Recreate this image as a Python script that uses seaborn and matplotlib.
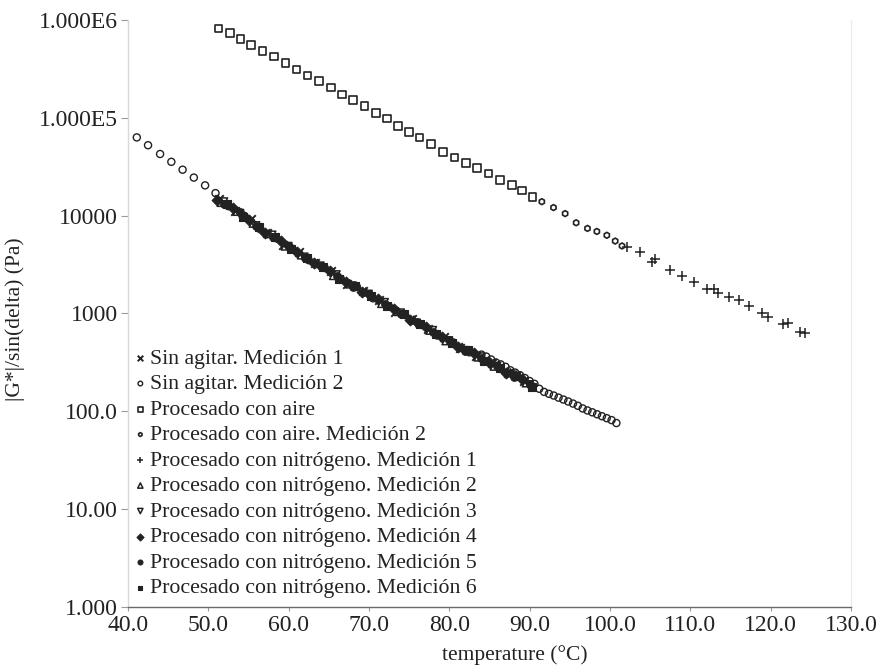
import matplotlib
matplotlib.use("Agg")
import matplotlib.pyplot as plt
import seaborn as sns

# ---- data: temperature (°C) and |G*|/sin(delta) (Pa) per measurement ----
sa1_t = [51.3, 53.3, 55.3, 57.3, 59.3, 61.3, 63.3, 65.3, 67.3, 69.3,
         71.3, 73.3, 75.3, 77.3, 79.3, 81.3, 83.3, 85.3, 87.3, 89.3]
sa1_g = [14900, 11100, 9160, 6670, 5070, 4220, 3270, 2720, 2020, 1680,
         1370, 1040, 885, 700, 571, 444, 370, 314, 244, 203]

sa2_t = [41.1, 42.5, 44.0, 45.4, 46.8, 48.2, 49.6, 50.9,
         52.5, 54.5, 56.5, 58.5, 60.5, 62.5, 64.5, 66.5, 68.5, 70.5,
         72.5, 74.5, 76.5, 78.5, 80.5, 82.5,
         84.0, 84.6, 85.2, 85.8, 86.4, 87.0, 87.6, 88.2, 88.8, 89.4,
         90.0, 90.6, 91.2, 91.8, 92.4, 93.0, 93.6, 94.2, 94.8, 95.4,
         96.0, 96.6, 97.2, 97.8, 98.4, 99.0, 99.6, 100.2, 100.8]
sa2_g = [63100, 52500, 42700, 35500, 29500, 24500, 20400, 17000,
         12500, 9950, 7240, 5860, 4520, 3510, 2920, 2260, 1870, 1430,
         1180, 966, 764, 596, 505, 401,
         380, 363, 339, 316, 302, 285, 263, 249, 234, 219,
         204, 191, 170, 158, 151, 145, 138, 132, 126, 120,
         114, 107, 102, 97.7, 93.3, 89.1, 85.1, 81.3, 75.9]

aire_t = [51.25, 52.70, 54.03, 55.32, 56.77, 58.18, 59.59, 60.96, 62.37, 63.79,
          65.24, 66.61, 67.98, 69.43, 70.84, 72.21, 73.62, 74.95, 76.28, 77.69,
          79.19, 80.64, 82.05, 83.42, 84.87, 86.33, 87.78, 89.03, 90.35]
aire_g = [822000, 741000, 640000, 555000, 485000, 422000, 361000, 313000, 270000, 238000,
          205000, 174000, 153000, 132000, 112000, 98000, 82400, 71600, 62700, 54000,
          45000, 39400, 34500, 30900, 27100, 23300, 20600, 18000, 15600]

aire2_t = [91.52, 92.97, 94.42, 95.79, 97.20, 98.37, 99.61, 100.65, 101.5]
aire2_g = [13900, 12100, 10500, 8460, 7410, 6900, 6300, 5500, 4900]

n1_t = [102.1, 103.76, 105.21, 105.63, 107.5, 108.95, 110.4, 112.07, 112.9, 113.5,
        114.76, 116.0, 117.25, 118.9, 119.7, 121.6, 122.2, 123.7, 124.3]
n1_g = [4740, 4280, 3380, 3570, 2780, 2410, 2110, 1800, 1760, 1620,
        1480, 1370, 1190, 1000, 925, 780, 800, 641, 627]

n2_t = [51.6, 53.6, 55.6, 57.6, 59.6, 61.6, 63.6, 65.6, 67.6, 69.6,
        71.6, 73.6, 75.6, 77.6, 79.6, 81.6, 83.6, 85.6, 87.6, 89.6]
n2_g = [13700, 11100, 8390, 6560, 4900, 3980, 3240, 2450, 2010, 1660,
        1270, 1050, 857, 676, 528, 450, 360, 290, 247, 196]

n3_t = [51.9, 53.9, 55.9, 57.9, 59.9, 61.9, 63.9, 65.9, 67.9, 69.9,
        71.9, 73.9, 75.9, 77.9, 79.9, 81.9, 83.9, 85.9, 87.9, 89.9]
n3_g = [13800, 10500, 7870, 6310, 4840, 3760, 3050, 2480, 1910, 1570,
        1290, 1010, 794, 668, 525, 417, 359, 288, 234, 186]

n4_t = [51.1, 53.1, 55.1, 57.1, 59.1, 61.1, 63.1, 65.1, 67.1, 69.1,
        71.1, 73.1, 75.1, 77.1, 79.1, 81.1, 83.1, 85.1, 87.1, 89.1]
n4_g = [14300, 11900, 8990, 6680, 5560, 4220, 3270, 2720, 2120, 1640,
        1400, 1110, 863, 733, 570, 453, 394, 313, 249, 212]

n5_t = [52.0, 54.0, 56.0, 58.0, 60.0, 62.0, 64.0, 66.0, 68.0, 70.0,
        72.0, 74.0, 76.0, 78.0, 80.0, 82.0, 84.0, 86.0, 88.0, 90.0]
n5_g = [13300, 10800, 7760, 6100, 4900, 3720, 3090, 2400, 1880, 1580,
        1240, 977, 822, 646, 531, 412, 347, 292, 226, 188]

n6_t = [52.3, 54.3, 56.3, 58.3, 60.3, 62.3, 64.3, 66.3, 68.3, 70.3,
        72.3, 74.3, 76.3, 78.3, 80.3, 82.3, 84.3, 86.3, 88.3, 90.3]
n6_g = [13100, 9730, 7620, 6000, 4520, 3670, 2990, 2260, 1910, 1500,
        1180, 989, 780, 610, 504, 419, 329, 277, 230, 179]

labels = [
    "Sin agitar. Medición 1",
    "Sin agitar. Medición 2",
    "Procesado con aire",
    "Procesado con aire. Medición 2",
    "Procesado con nitrógeno. Medición 1",
    "Procesado con nitrógeno. Medición 2",
    "Procesado con nitrógeno. Medición 3",
    "Procesado con nitrógeno. Medición 4",
    "Procesado con nitrógeno. Medición 5",
    "Procesado con nitrógeno. Medición 6",
]

x_ticks = [40, 50, 60, 70, 80, 90, 100, 110, 120, 130]
x_ticklabels = ["40.0", "50.0", "60.0", "70.0", "80.0", "90.0",
                "100.0", "110.0", "120.0", "130.0"]
y_ticks = [1, 10, 100, 1000, 10000, 100000, 1000000]
y_ticklabels = ["1.000", "10.00", "100.0", "1000", "10000", "1.000E5", "1.000E6"]

# ---- styling ----
sns.set_theme(style="white")
plt.rcParams["font.family"] = ["Liberation Serif", "DejaVu Serif"]
ink = "#222222"

fig = plt.figure(figsize=(8.88, 6.67), dpi=100)
ax = fig.add_axes([0.1441, 0.0900, 0.8142, 0.8800])

# (x, y, label, marker, size, filled, linewidth)
series = [
    (sa1_t, sa1_g, labels[0], "x", 38, None, 1.4),
    (sa2_t, sa2_g, labels[1], "o", 26, False, 1.0),
    (aire_t, aire_g, labels[2], "s", 30, False, 1.2),
    (aire2_t, aire2_g, labels[3], "h", 18, False, 1.2),
    (n1_t, n1_g, labels[4], "+", 50, None, 1.1),
    (n2_t, n2_g, labels[5], "^", 34, False, 1.1),
    (n3_t, n3_g, labels[6], "v", 34, False, 1.1),
    (n4_t, n4_g, labels[7], "D", 30, True, 0.8),
    (n5_t, n5_g, labels[8], "o", 30, True, 0.8),
    (n6_t, n6_g, labels[9], "s", 30, True, 0.8),
]

for xs, ys, lab, mk, sz, filled, lw in series:
    if filled is None:
        sns.scatterplot(x=xs, y=ys, marker=mk, s=sz, color=ink,
                        linewidth=lw, label=lab, ax=ax)
    elif filled:
        sns.scatterplot(x=xs, y=ys, marker=mk, s=sz, facecolor=ink,
                        edgecolor=ink, linewidth=lw, label=lab, ax=ax)
    else:
        sns.scatterplot(x=xs, y=ys, marker=mk, s=sz, facecolor="none",
                        edgecolor=ink, linewidth=lw, label=lab, ax=ax)

ax.set_yscale("log")
ax.set_xlim(40, 130)
ax.set_ylim(1, 1e6)
ax.set_xticks(x_ticks, labels=x_ticklabels)
ax.set_yticks(y_ticks, labels=y_ticklabels)
ax.minorticks_off()
ax.tick_params(axis="y", which="major", direction="out", length=5, width=0.8,
               color="#9a9a9a", labelsize=17, labelcolor=ink, pad=2, left=True)
ax.tick_params(axis="x", which="major", direction="out", length=3, width=0.8,
               color="#9a9a9a", labelsize=17, labelcolor=ink, pad=3, bottom=True)

ax.spines["top"].set_visible(False)
ax.spines["left"].set_color("#d8d8d8")
ax.spines["left"].set_linewidth(1.0)
ax.spines["right"].set_color("#ececec")
ax.spines["right"].set_linewidth(1.0)
ax.spines["bottom"].set_color("#6a6a6a")
ax.spines["bottom"].set_linewidth(1.0)

ax.set_xlabel("temperature (°C)", fontsize=15.5, color=ink)
ax.xaxis.label.set_va("center")
ax.xaxis.set_label_coords(0.535, -0.082)
ax.set_ylabel("|G*|/sin(delta) (Pa)", fontsize=15.5, color=ink)
ax.yaxis.label.set_va("center")
ax.yaxis.set_label_coords(-0.156, 0.49)

leg = ax.legend(loc="lower left", bbox_to_anchor=(-0.004, 0.0), frameon=False,
                fontsize=15.7, handlelength=0.6, handletextpad=0.15,
                labelspacing=0.24, borderaxespad=0.2, borderpad=0.2,
                markerscale=0.65)
for txt in leg.get_texts():
    txt.set_color(ink)

fig.savefig("out.png", dpi=100)
